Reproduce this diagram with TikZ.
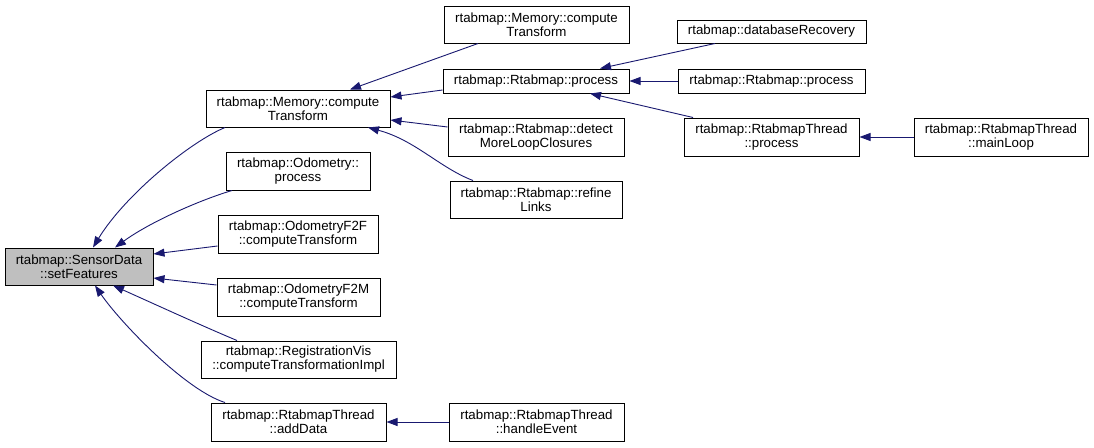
\documentclass[tikz,border=0pt]{standalone}
\usepackage{fontspec}
\setmainfont{Liberation Sans}
\usetikzlibrary{arrows.meta}
\definecolor{edgeblue}{HTML}{191970}
\definecolor{focusgray}{HTML}{BFBFBF}
\tikzset{
  box/.style={draw=black, line width=1pt, fill=white, inner sep=0pt, align=center,
    font=\fontsize{13.3}{14}\selectfont},
  focus/.style={box, fill=focusgray},
  edge/.style={draw=edgeblue, line width=0.9pt, -{Triangle[length=11pt,width=8pt]}}
}
\begin{document}
\begin{tikzpicture}[x=1pt,y=-1pt]
\useasboundingbox[fill=white] (0,0) rectangle (1094,447);
% column 1
\node[focus, minimum width=148pt, minimum height=37pt] (SD) at (79,266.5) {rtabmap::SensorData\\::setFeatures};
% column 2
\node[box, minimum width=184pt, minimum height=37pt] (MemL) at (298,108.5) {rtabmap::Memory::compute\\Transform};
\node[box, minimum width=144pt, minimum height=38pt] (Odo) at (298,171) {rtabmap::Odometry::\\process};
\node[box, minimum width=160pt, minimum height=38pt] (F2F) at (298,234) {rtabmap::OdometryF2F\\::computeTransform};
\node[box, minimum width=163pt, minimum height=38pt] (F2M) at (298.5,297) {rtabmap::OdometryF2M\\::computeTransform};
\node[box, minimum width=195pt, minimum height=37pt] (Reg) at (298.5,359.5) {rtabmap::RegistrationVis\\::computeTransformationImpl};
\node[box, minimum width=175pt, minimum height=38pt] (AddD) at (298.5,422) {rtabmap::RtabmapThread\\::addData};
% column 3
\node[box, minimum width=185pt, minimum height=37pt] (MemT) at (536.5,24.5) {rtabmap::Memory::compute\\Transform};
\node[box, minimum width=186pt, minimum height=24pt] (RP) at (536,81) {rtabmap::Rtabmap::process};
\node[box, minimum width=176pt, minimum height=38pt] (Det) at (536,137) {rtabmap::Rtabmap::detect\\MoreLoopClosures};
\node[box, minimum width=172pt, minimum height=37pt] (Ref) at (536,199.5) {rtabmap::Rtabmap::refine\\Links};
\node[box, minimum width=175pt, minimum height=38pt] (HE) at (536.5,422) {rtabmap::RtabmapThread\\::handleEvent};
% column 4
\node[box, minimum width=189pt, minimum height=23pt] (DB) at (771.5,31.5) {rtabmap::databaseRecovery};
\node[box, minimum width=187pt, minimum height=24pt] (RP2) at (771.5,81) {rtabmap::Rtabmap::process};
\node[box, minimum width=175pt, minimum height=38pt] (RTP) at (771.5,137) {rtabmap::RtabmapThread\\::process};
% column 5
\node[box, minimum width=174pt, minimum height=38pt] (ML) at (1001,137) {rtabmap::RtabmapThread\\::mainLoop};

% edges into SensorData
\draw[edge] ([xshift=-73pt]MemL.south) .. controls (190,142) and (125,195) .. ([xshift=14pt]SD.north);
\draw[edge] ([xshift=-66pt]Odo.south) .. controls (200,200) and (150,222) .. ([xshift=36pt]SD.north);
\draw[edge] ([yshift=-12pt]F2F.west) -- ([yshift=12.5pt]SD.east);
\draw[edge] ([yshift=12pt]F2M.west) -- ([yshift=-11.5pt]SD.east);
\draw[edge] ([xshift=-61.5pt]Reg.north) .. controls (200,325) and (150,302) .. ([xshift=34pt]SD.south);
\draw[edge] ([xshift=-73.5pt]AddD.north) .. controls (185,390) and (120,322) .. ([xshift=16pt]SD.south);
% edges into Memory::computeTransform
\draw[edge] ([xshift=-58.5pt]MemT.south) -- ([xshift=52pt]MemL.north);
\draw[edge] ([yshift=-9pt]RP.west) -- ([yshift=11.5pt]MemL.east);
\draw[edge] ([yshift=10pt]Det.west) -- ([yshift=-11.5pt]MemL.east);
\draw[edge] ([xshift=-63pt]Ref.north) .. controls (440,168) and (415,140) .. ([xshift=70pt]MemL.south);
% edges into Rtabmap::process
\draw[edge] ([xshift=-56.5pt]DB.south) -- ([xshift=64pt]RP.north);
\draw[edge] (RP2.west) -- (RP.east);
\draw[edge] ([xshift=-78.5pt]RTP.north) -- ([xshift=54pt]RP.south);
% other
\draw[edge] (ML.west) -- (RTP.east);
\draw[edge] (HE.west) -- (AddD.east);
\end{tikzpicture}
\end{document}
